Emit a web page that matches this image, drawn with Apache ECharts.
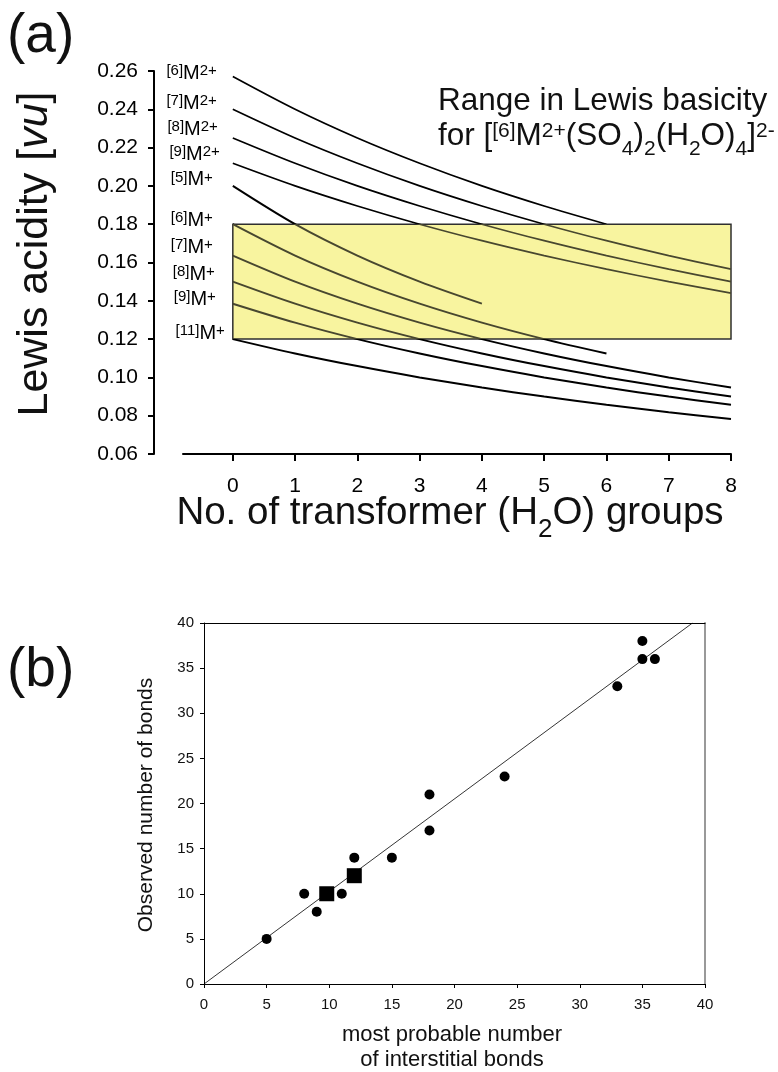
<!DOCTYPE html>
<html><head><meta charset="utf-8">
<script src="https://cdn.jsdelivr.net/npm/echarts@6/dist/echarts.min.js"></script>
<style>html,body{margin:0;padding:0;background:#fff}#c{width:778px;height:1072px}</style>
</head><body><div id="c"></div>
<script>
// ---------- Panel (a) data ----------
const transformerTicks = [0, 1, 2, 3, 4, 5, 6, 7, 8];
const yTicksA = [0.06, 0.08, 0.10, 0.12, 0.14, 0.16, 0.18, 0.20, 0.22, 0.24, 0.26];
const curveLabels = ['[6]M2+', '[7]M2+', '[8]M2+', '[9]M2+', '[5]M+', '[6]M+', '[7]M+', '[8]M+', '[9]M+', '[11]M+'];
const m6_2 = [0.2571, 0.2400, 0.2250, 0.2118, 0.2000, 0.1895, 0.1800];
const m7_2 = [0.2400, 0.2250, 0.2118, 0.2000, 0.1895, 0.1800, 0.1714, 0.1636, 0.1565];
const m8_2 = [0.2250, 0.2118, 0.2000, 0.1895, 0.1800, 0.1714, 0.1636, 0.1565, 0.1500];
const m9_2 = [0.2118, 0.2000, 0.1895, 0.1800, 0.1714, 0.1636, 0.1565, 0.1500, 0.1440];
const m5_1 = [0.2000, 0.1800, 0.1636, 0.1500, 0.1385];
const m6_1 = [0.1800, 0.1636, 0.1500, 0.1385, 0.1286, 0.1200, 0.1125];
const m7_1 = [0.1636, 0.1500, 0.1385, 0.1286, 0.1200, 0.1125, 0.1059, 0.1000, 0.0947];
const m8_1 = [0.1500, 0.1385, 0.1286, 0.1200, 0.1125, 0.1059, 0.1000, 0.0947, 0.0900];
const m9_1 = [0.1385, 0.1286, 0.1200, 0.1125, 0.1059, 0.1000, 0.0947, 0.0900, 0.0857];
const m11_1 = [0.1200, 0.1125, 0.1059, 0.1000, 0.0947, 0.0900, 0.0857, 0.0818, 0.0783];
const basicityRangeX = [0, 8];
const basicityRangeY = [0.12, 0.18];

// ---------- Panel (b) data ----------
const predictedCircles = [5, 8, 9, 11, 12, 15, 18, 18, 24, 33, 35, 35, 36];
const observedCircles  = [5, 10, 8, 10, 14, 14, 21, 17, 23, 33, 38, 36, 36];
const predictedSquares = [9.8, 12];
const observedSquares  = [10, 12];
const refLineX = [0, 39];
const refLineY = [0, 40];
const ticksB = [0, 5, 10, 15, 20, 25, 30, 35, 40];

const FONT = '"Liberation Sans", Arial, "DejaVu Sans", sans-serif';

function richLabel(name) {
  const m = name.match(/^\[(\d+)\]M(.*)$/);
  return '{s|[' + m[1] + ']}{m|M}{s|' + m[2] + '}';
}
const labelRich = {
  m: { fontSize: 20, lineHeight: 23, verticalAlign: 'top', color: '#000', fontFamily: FONT },
  s: { fontSize: 15, lineHeight: 15, verticalAlign: 'top', padding: [0, 0, 0, 0], color: '#000', fontFamily: FONT }
};
const curveData = [m6_2, m7_2, m8_2, m9_2, m5_1, m6_1, m7_1, m8_1, m9_1, m11_1];
const labelOffsets = [-2, -4, -7, -7, -4.5, -2, -6.5, -6, -3, -4];
const labelDist = [16, 16, 15, 13, 20, 20, 20, 18, 17, 8];

const curveSeries = curveData.map((arr, k) => ({
  type: 'line',
  name: curveLabels[k],
  xAxisIndex: 0, yAxisIndex: 0,
  z: 3,
  smooth: 0.3,
  symbol: 'circle', symbolSize: 0, showSymbol: true,
  lineStyle: { width: k < 4 ? 1.7 : 2 },
  itemStyle: { color: '#000' },
  silent: true,
  data: arr.map((v, i) => i === 0 ? {
    value: [transformerTicks[i], v],
    label: {
      show: true, position: 'left', distance: labelDist[k], offset: [0, labelOffsets[k]],
      formatter: richLabel(curveLabels[k]), rich: labelRich
    }
  } : [transformerTicks[i], v])
}));

const chart = echarts.init(document.getElementById('c'), null, { renderer: 'canvas' });

const titleRich = {
  m: { fontSize: 31.5, lineHeight: 37, verticalAlign: 'top', fontFamily: FONT, fill: '#111' },
  s: { fontSize: 21, lineHeight: 21, verticalAlign: 'top', padding: [1, 0, 0, 0], fontFamily: FONT, fill: '#111' },
  b: { fontSize: 21, lineHeight: 21, verticalAlign: 'top', padding: [19, 0, 0, 0], fontFamily: FONT, fill: '#111' }
};

const option = {
  animation: false,
  backgroundColor: '#fff',
  textStyle: { fontFamily: FONT },
  grid: [
    { left: 183, right: 47, top: 71, bottom: 618 },
    { left: 204, right: 73, top: 623, bottom: 88 }
  ],
  xAxis: [
    {
      type: 'value', gridIndex: 0, min: -0.8, max: 8,
      axisLine: { show: true, onZero: false, lineStyle: { color: '#000', width: 2 } },
      axisTick: { show: true, customValues: transformerTicks, length: 7, lineStyle: { color: '#000', width: 2 } },
      axisLabel: { customValues: transformerTicks, fontSize: 21, color: '#000', margin: 22, fontFamily: FONT },
      splitLine: { show: false }
    },
    {
      type: 'value', gridIndex: 1, min: 0, max: 40, interval: 5,
      axisLine: { show: true, onZero: false, lineStyle: { color: '#000', width: 1 } },
      axisTick: { show: true, length: 4, lineStyle: { color: '#000', width: 1 } },
      axisLabel: { fontSize: 15, color: '#111', margin: 13, fontFamily: FONT },
      splitLine: { show: false }
    },
    {
      type: 'value', gridIndex: 1, position: 'top', min: 0, max: 40,
      axisLine: { show: true, onZero: false, lineStyle: { color: '#000', width: 1 } },
      axisTick: { show: false }, axisLabel: { show: false }, splitLine: { show: false }
    }
  ],
  yAxis: [
    {
      type: 'value', gridIndex: 0, min: 0.06, max: 0.26, interval: 0.02, offset: 29,
      axisLine: { show: true, onZero: false, lineStyle: { color: '#000', width: 2 } },
      axisTick: { show: true, length: 6, lineStyle: { color: '#000', width: 2 } },
      axisLabel: { fontSize: 21, color: '#000', margin: 16, fontFamily: FONT, formatter: v => v.toFixed(2) },
      splitLine: { show: false }
    },
    {
      type: 'value', gridIndex: 1, min: 0, max: 40, interval: 5,
      axisLine: { show: true, onZero: false, lineStyle: { color: '#000', width: 1 } },
      axisTick: { show: true, length: 4, lineStyle: { color: '#000', width: 1 } },
      axisLabel: { fontSize: 15, color: '#111', margin: 10, fontFamily: FONT },
      splitLine: { show: false }
    },
    {
      type: 'value', gridIndex: 1, position: 'right', min: 0, max: 40,
      axisLine: { show: true, onZero: false, lineStyle: { color: '#999', width: 2 } },
      axisTick: { show: false }, axisLabel: { show: false }, splitLine: { show: false }
    }
  ],
  visualMap: {
    type: 'piecewise', show: false, dimension: 1,
    seriesIndex: [1, 2, 3, 4, 5, 6, 7, 8, 9, 10],
    pieces: [
      { gt: 0.12, lt: 0.18, color: '#48472f' },
      { lte: 0.12, color: '#000' },
      { gte: 0.18, color: '#000' }
    ]
  },
  series: [
    {
      type: 'custom', xAxisIndex: 0, yAxisIndex: 0, z: 1, silent: true,
      data: [[basicityRangeX[0], basicityRangeX[1], basicityRangeY[0], basicityRangeY[1]]],
      renderItem: function (params, api) {
        const p0 = api.coord([api.value(0), api.value(3)]);
        const p1 = api.coord([api.value(1), api.value(2)]);
        return {
          type: 'rect',
          shape: { x: p0[0], y: p0[1], width: p1[0] - p0[0], height: p1[1] - p0[1] },
          style: { fill: '#f8f49f', stroke: '#2f2f2f', lineWidth: 1.5 }
        };
      }
    },
    ...curveSeries,
    {
      type: 'line', xAxisIndex: 1, yAxisIndex: 1, silent: true, symbol: 'none', z: 2,
      lineStyle: { color: '#000', width: 0.8 },
      data: refLineX.map((x, i) => [x, refLineY[i]])
    },
    {
      type: 'scatter', xAxisIndex: 1, yAxisIndex: 1, silent: true, symbol: 'circle', symbolSize: 10, z: 3,
      itemStyle: { color: '#000', opacity: 1 },
      data: predictedCircles.map((x, i) => [x, observedCircles[i]])
    },
    {
      type: 'scatter', xAxisIndex: 1, yAxisIndex: 1, silent: true, symbol: 'rect', symbolSize: 15, z: 3,
      itemStyle: { color: '#000', opacity: 1 },
      data: predictedSquares.map((x, i) => [x, observedSquares[i]])
    }
  ],
  graphic: [
    { type: 'text', left: 7, top: 9, style: { text: '(a)', fontSize: 55, fontFamily: FONT, fill: '#111' } },
    { type: 'text', left: 7, top: 643, style: { text: '(b)', fontSize: 55, fontFamily: FONT, fill: '#111' } },
    {
      type: 'text', x: 35, y: 254, rotation: Math.PI / 2,
      style: {
        text: '{n|Lewis acidity [}{i|vu}{n|]}', align: 'center', verticalAlign: 'middle',
        rich: {
          n: { fontSize: 43, fontFamily: FONT, fill: '#111' },
          i: { fontSize: 43, fontFamily: FONT, fontStyle: 'italic', fill: '#111' }
        }
      }
    },
    {
      type: 'text', x: 450, y: 494,
      style: {
        text: '{m|No. of transformer (H}{b|2}{m|O) groups}', align: 'center', verticalAlign: 'top',
        rich: {
          m: { fontSize: 38.5, lineHeight: 44, verticalAlign: 'top', fontFamily: FONT, fill: '#111' },
          b: { fontSize: 26, lineHeight: 26, verticalAlign: 'top', padding: [23, 0, 0, 0], fontFamily: FONT, fill: '#111' }
        }
      }
    },
    {
      type: 'text', x: 438, y: 85,
      style: { text: '{m|Range in Lewis basicity}', rich: titleRich }
    },
    {
      type: 'text', x: 438, y: 120,
      style: {
        text: '{m|for [}{s|[6]}{m|M}{s|2+}{m|(SO}{b|4}{m|)}{b|2}{m|(H}{b|2}{m|O)}{b|4}{m|]}{s|2-}',
        rich: titleRich
      }
    },
    {
      type: 'text', x: 146, y: 805, rotation: Math.PI / 2,
      style: { text: 'Observed number of bonds', align: 'center', verticalAlign: 'middle', fontSize: 21, fontFamily: FONT, fill: '#111' }
    },
    {
      type: 'text', x: 452, y: 1035,
      style: { text: 'most probable number', align: 'center', verticalAlign: 'middle', fontSize: 22, fontFamily: FONT, fill: '#111' }
    },
    {
      type: 'text', x: 452, y: 1060,
      style: { text: 'of interstitial bonds', align: 'center', verticalAlign: 'middle', fontSize: 22, fontFamily: FONT, fill: '#111' }
    }
  ]
};
chart.setOption(option);
</script>
</body></html>
